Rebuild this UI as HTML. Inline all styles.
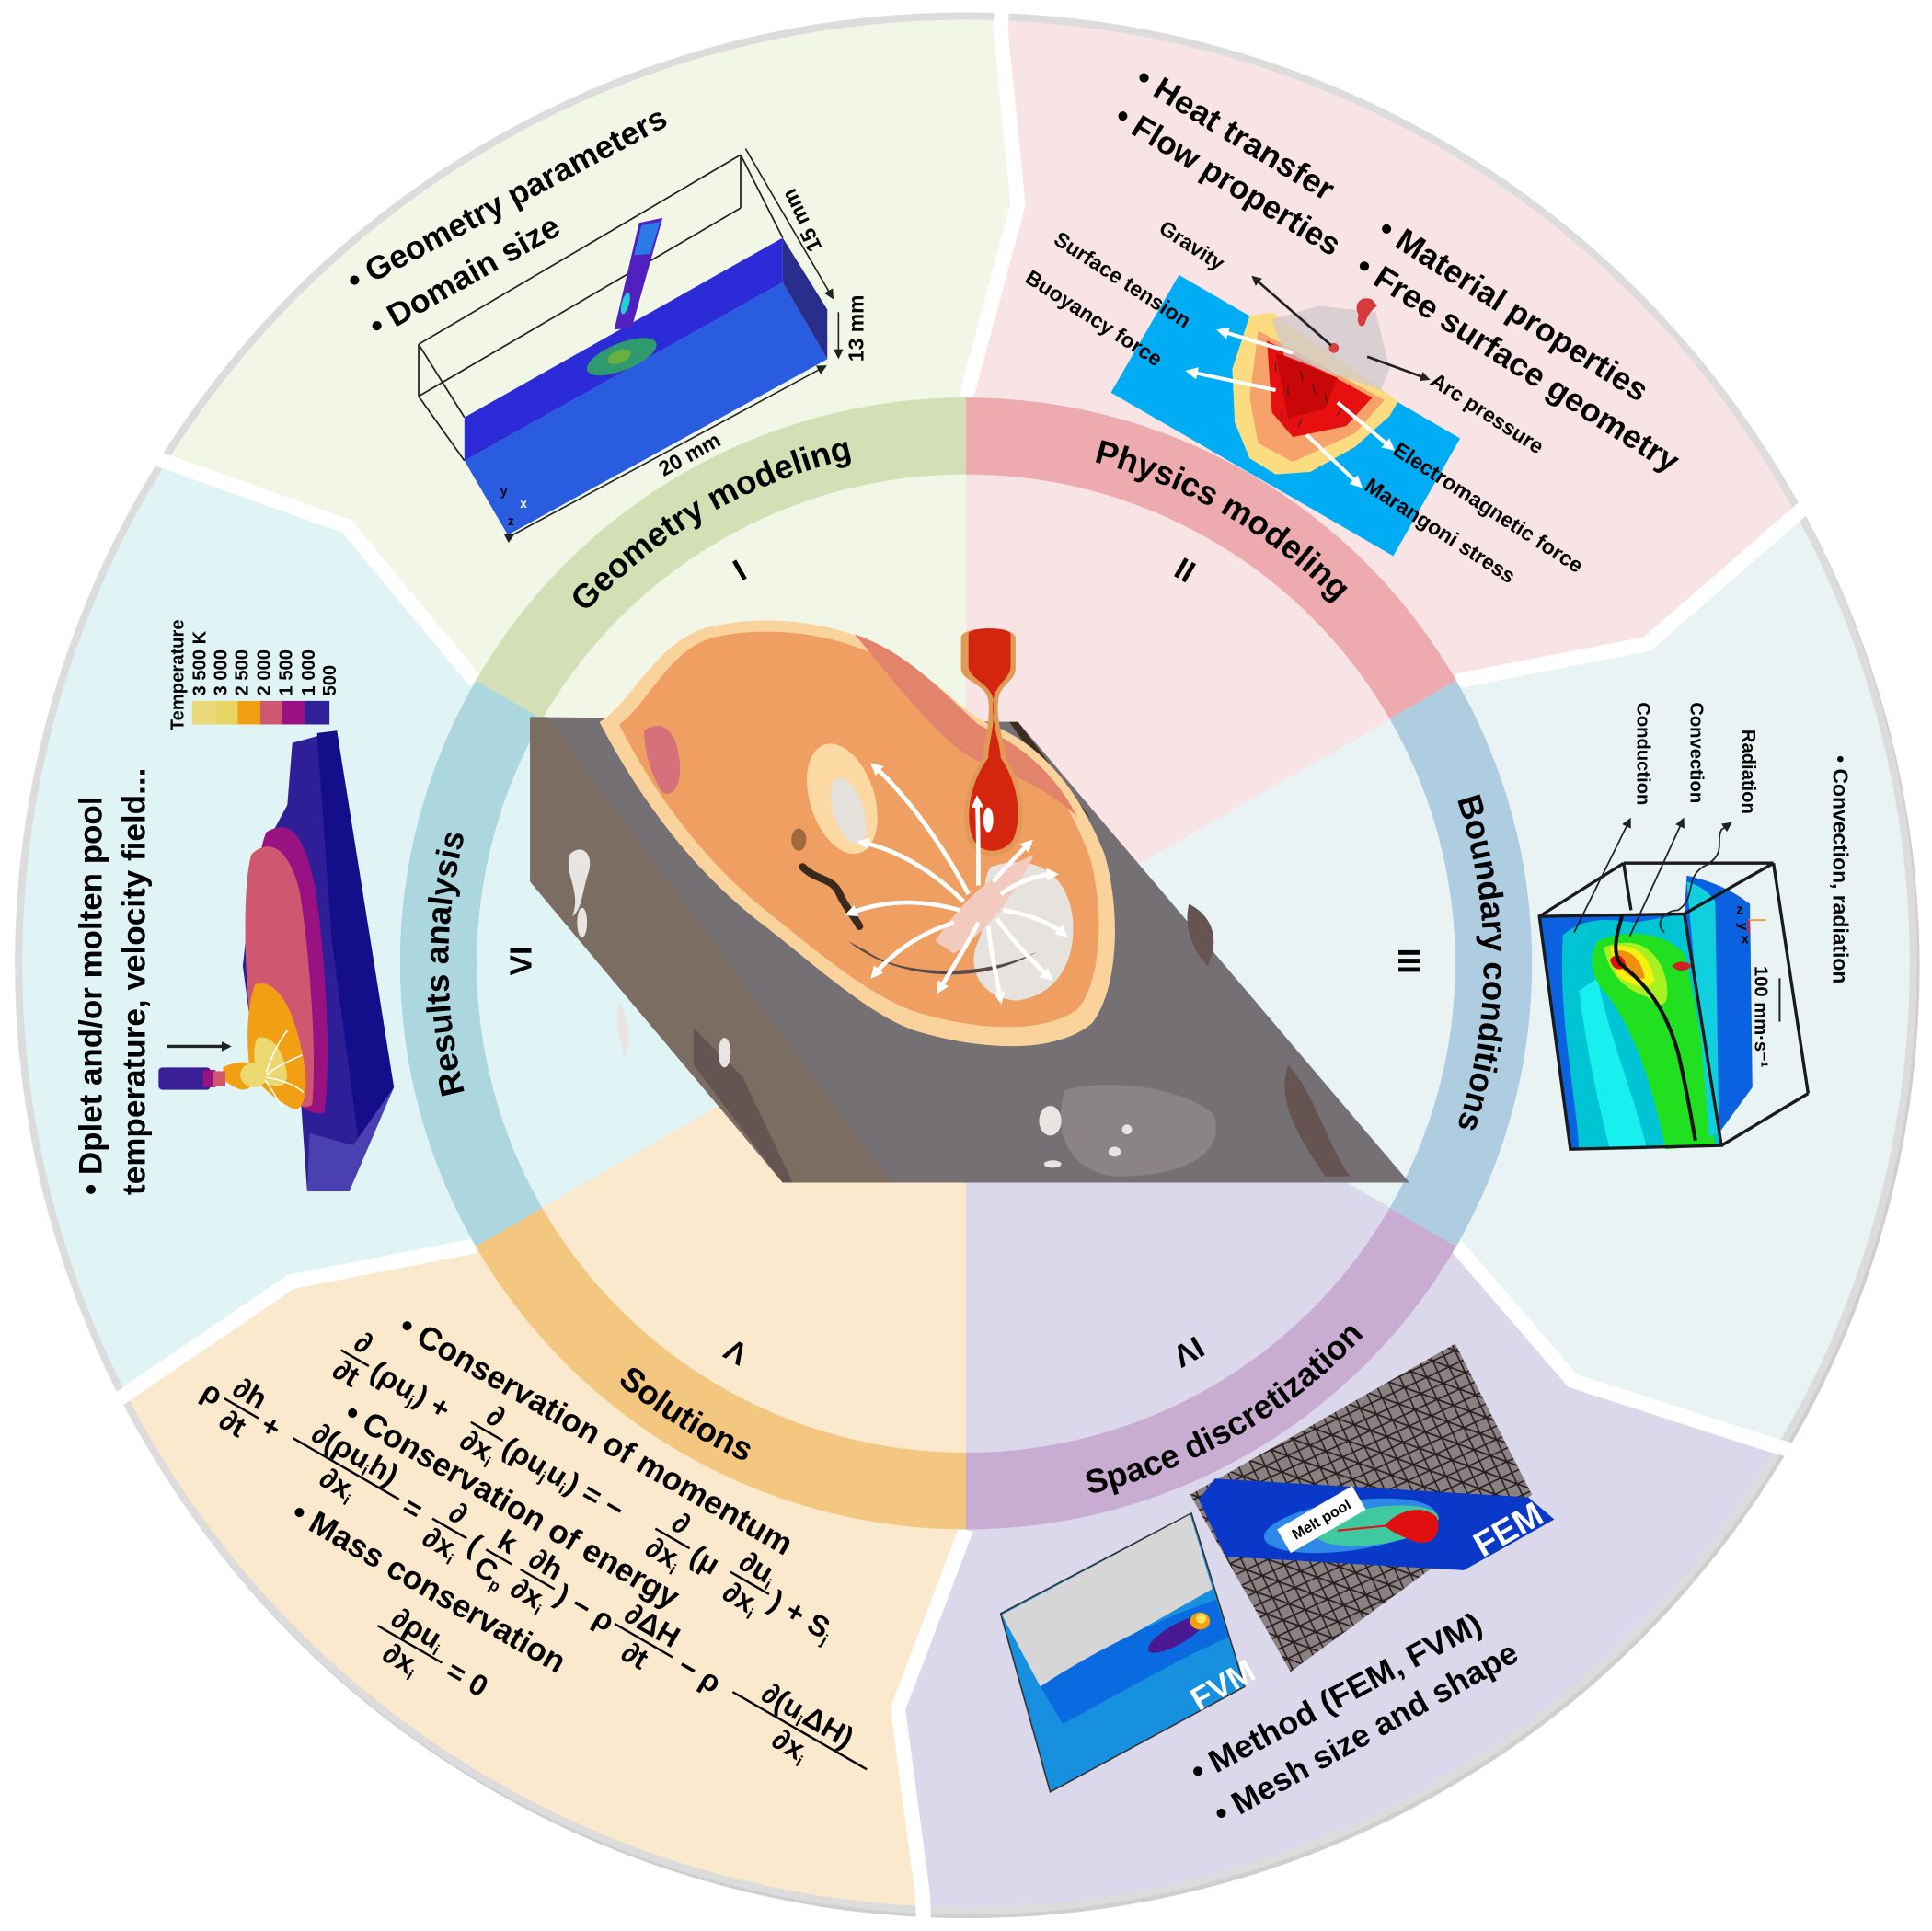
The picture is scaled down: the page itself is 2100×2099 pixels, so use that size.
<!DOCTYPE html>
<html><head><meta charset="utf-8"><style>
html,body{margin:0;padding:0;background:#fff;width:2100px;height:2099px;overflow:hidden;}
svg{display:block;}
text{font-family:"Liberation Sans",Arial,sans-serif;font-weight:bold;fill:#000;}
</style></head><body>
<svg width="2100" height="2099" viewBox="0 0 1560 1559.3" xmlns="http://www.w3.org/2000/svg">
<defs>
<clipPath id="cc"><circle cx="780" cy="778" r="762"/></clipPath>
<marker id="ab" markerWidth="8" markerHeight="8" refX="6" refY="4" orient="auto" markerUnits="userSpaceOnUse"><path d="M0,0 L8,4 L0,8 Z" fill="#222"/></marker>
<marker id="aw" markerWidth="10" markerHeight="10" refX="7" refY="5" orient="auto" markerUnits="userSpaceOnUse"><path d="M0,0 L10,5 L0,10 Z" fill="#fff"/></marker>
<pattern id="mesh" width="14" height="14" patternUnits="userSpaceOnUse" patternTransform="rotate(20)">
<rect width="14" height="14" fill="#8a8282"/>
<path d="M0,0 L14,14 M14,0 L0,14 M0,7 L14,7" stroke="#2a1c1c" stroke-width="1.2"/>
</pattern>
<path id="tI" d="M418,569 A418,418 0 0 1 780,360"/>
<path id="tII" d="M780,360 A418,418 0 0 1 1142,569"/>
<path id="tIII" d="M1142,569 A418,418 0 0 1 1142,987"/>
<path id="tVI" d="M418,987 A418,418 0 0 1 418,569"/>
<path id="tIV" d="M780,1218 A440,440 0 0 0 1161,998"/>
<path id="tV" d="M399,998 A440,440 0 0 0 780,1218"/>
</defs>

<circle cx="782" cy="781" r="768" fill="#cfcfcf"/>
<circle cx="780" cy="778" r="768" fill="#dcdcdc"/>

<g clip-path="url(#cc)">
<polygon fill="#f2f6e6" points="780,778 384,550 280,425 140,375 -300,100 -300,-300 810,-300 808,25 822,165 780,321"/>
<polygon fill="#f8e3e5" points="780,778 780,321 822,165 808,25 810,-300 1900,-300 1900,300 1445,420 1330,520 1176,550"/>
<polygon fill="#eaf3f4" points="780,778 1176,550 1330,520 1445,420 1900,300 1900,1300 1425,1165 1270,1115 1176,1006"/>
<polygon fill="#dcd8eb" points="780,778 1176,1006 1270,1115 1425,1165 1900,1300 1900,1900 745,1900 745,1530 725,1380 780,1235"/>
<polygon fill="#fae9cd" points="780,778 780,1235 725,1380 745,1530 745,1900 -300,1900 -300,1200 110,1120 235,1035 384,1006"/>
<polygon fill="#e0f4f6" points="780,778 384,1006 235,1035 110,1120 -300,1200 -300,100 140,375 280,425 384,550"/>
</g>
<g fill="none" stroke="#fff" stroke-width="12" stroke-linejoin="round">
<polyline points="780,321 822,165 808,25 809,2"/>
<polyline points="1176,550 1330,520 1445,420 1466,402"/>
<polyline points="1176,1006 1270,1115 1425,1165 1450,1172"/>
<polyline points="780,1235 725,1380 745,1530 746,1558"/>
<polyline points="384,1006 235,1035 110,1120 90,1134"/>
<polyline points="384,550 280,425 140,375 118,367"/>
</g>

<path fill="#d3e0b5" d="M384.2,549.5 A457,457 0 0 1 780,321 L780,383 A395,395 0 0 0 437.9,580.5 Z"/>
<path fill="#eeabaf" d="M780,321 A457,457 0 0 1 1175.8,549.5 L1122.1,580.5 A395,395 0 0 0 780,383 Z"/>
<path fill="#aecde1" d="M1175.8,549.5 A457,457 0 0 1 1175.8,1006.5 L1122.1,975.5 A395,395 0 0 0 1122.1,580.5 Z"/>
<path fill="#c8acd2" d="M1175.8,1006.5 A457,457 0 0 1 780,1235 L780,1173 A395,395 0 0 0 1122.1,975.5 Z"/>
<path fill="#f3c780" d="M780,1235 A457,457 0 0 1 384.2,1006.5 L437.9,975.5 A395,395 0 0 0 780,1173 Z"/>
<path fill="#acd7de" d="M384.2,1006.5 A457,457 0 0 1 384.2,549.5 L437.9,580.5 A395,395 0 0 0 437.9,975.5 Z"/>

<g font-size="27">
<text><textPath href="#tI" startOffset="50%" text-anchor="middle">Geometry modeling</textPath></text>
<text><textPath href="#tII" startOffset="50%" text-anchor="middle">Physics modeling</textPath></text>
<text><textPath href="#tIII" startOffset="50%" text-anchor="middle">Boundary conditions</textPath></text>
<text><textPath href="#tVI" startOffset="50%" text-anchor="middle">Results analysis</textPath></text>
<text><textPath href="#tIV" startOffset="50%" text-anchor="middle">Space discretization</textPath></text>
<text><textPath href="#tV" startOffset="47%" text-anchor="middle">Solutions</textPath></text>
</g>
<g font-size="25" text-anchor="middle">
<text transform="translate(597,460) rotate(-30)" dy="9">I</text>
<text transform="translate(957,460) rotate(30)" dy="9">II</text>
<text transform="translate(1138,776) rotate(90)" dy="9">III</text>
<text transform="translate(960,1092) rotate(150)" dy="9">IV</text>
<text transform="translate(594,1092) rotate(-150)" dy="9">V</text>
<text transform="translate(420,776) rotate(-90)" dy="9">VI</text>
</g>

<polygon fill="#747073" points="428,579 822,583 1138,955 632,955 428,712"/>
<polygon fill="#7b6d62" points="428,579 442,579 720,955 632,955 428,712"/>
<polygon fill="#665453" points="560,830 600,870 640,955 632,955 560,860"/>
<polygon fill="#3b2d22" points="815,583 822,583 880,660 862,650"/>
<path fill="#8a8486" d="M860,880 C900,870 960,880 980,900 C990,930 960,950 900,950 C860,945 850,910 860,880 Z"/>
<path fill="#665453" d="M1040,860 C1060,880 1070,920 1090,950 L1070,950 C1050,920 1030,890 1040,860 Z"/>
<path fill="#665453" d="M960,730 C980,740 985,760 975,780 C965,770 955,750 960,730 Z"/>
<g fill="#e8e4e2">
<path d="M460,690 C470,680 480,690 475,705 C470,720 470,735 462,740 C470,720 455,705 460,690 Z"/>
<ellipse cx="470" cy="745" rx="4" ry="12"/>
<path d="M500,810 C508,820 510,840 505,855 C500,840 496,825 500,810 Z"/>
<ellipse cx="585" cy="850" rx="5" ry="12"/>
<ellipse cx="848" cy="905" rx="9" ry="12"/>
<ellipse cx="900" cy="930" rx="5" ry="4"/>
<ellipse cx="910" cy="912" rx="4" ry="4"/>
<ellipse cx="850" cy="940" rx="7" ry="3"/>
</g>
<path fill="#fad39c" d="M484,583 C510,568 528,520 570,507 C620,494 682,503 722,528 C760,552 780,578 804,587 C842,602 872,640 892,690 C906,740 902,800 882,826 C852,852 790,848 738,832 C698,818 650,772 610,742 C560,702 518,648 484,583 Z"/>
<path fill="#ef9f62" d="M500,585 C522,570 540,525 575,515 C622,504 680,512 718,535 C752,556 776,582 800,592 C836,606 862,644 880,692 C893,740 888,795 870,815 C842,835 790,832 742,818 C700,804 656,765 618,735 C572,698 530,645 500,585 Z"/>
<path fill="#e2846c" d="M690,512 C735,528 762,560 790,585 C820,600 850,620 870,660 C850,640 820,625 790,615 C760,600 730,560 690,512 Z"/>
<path fill="#d6707a" d="M520,590 C535,580 545,590 548,610 C552,630 545,645 535,640 C525,625 520,605 520,590 Z"/>
<ellipse cx="680" cy="645" rx="26" ry="46" transform="rotate(-18 680 645)" fill="#fcd9a2"/>
<ellipse cx="685" cy="655" rx="12" ry="28" transform="rotate(-18 685 655)" fill="#e4e0dc"/>
<path fill="#e6e2de" d="M800,700 C830,690 860,700 866,740 C870,780 850,805 820,808 C790,805 780,780 790,760 C800,735 790,715 800,700 Z"/>
<path fill="#f3cabe" d="M755,760 C775,730 800,705 835,690 C820,720 800,750 770,770 Z"/>
<path fill="#5a4a4a" d="M685,760 C720,790 790,798 838,768 C800,788 730,790 700,768 Z"/>
<path fill="none" stroke="#3a2a1e" stroke-width="6" stroke-linecap="round" d="M648,700 C660,712 672,708 678,722 C684,735 690,740 694,748"/>
<ellipse cx="645" cy="678" rx="6" ry="9" fill="#a06a3c"/>
<path fill="#e09a55" d="M776,515 C776,505 820,505 820,515 L820,540 C820,550 808,552 806,565 C804,585 812,600 812,612 C826,632 830,660 822,680 C812,695 790,695 782,680 C774,660 780,630 794,612 C794,600 800,585 798,565 C796,552 776,550 776,540 Z"/>
<path fill="#d4260e" d="M782,512 C782,506 816,506 816,512 L816,538 C816,548 804,552 802,565 C800,585 808,600 808,612 C822,632 826,660 818,678 C810,690 792,690 786,678 C778,660 784,630 798,612 C798,600 804,585 802,565 C800,552 782,548 782,538 Z"/>
<ellipse cx="798" cy="662" rx="4" ry="10" fill="#fff"/>
<g stroke="#fff" stroke-width="3.5" fill="none" marker-end="url(#aw)">
<path d="M782,722 C760,680 730,640 705,618"/>
<path d="M778,728 C750,700 720,685 695,680"/>
<path d="M775,735 C740,725 710,728 685,738"/>
<path d="M770,745 C740,755 720,770 705,788"/>
<path d="M790,745 C780,765 770,780 758,800"/>
<path d="M798,748 C800,770 805,790 808,808"/>
<path d="M805,742 C818,760 832,775 848,790"/>
<path d="M810,735 C830,738 848,745 860,755"/>
<path d="M808,722 C822,712 838,706 852,706"/>
<path d="M802,712 C812,700 822,690 832,680"/>
<path d="M790,715 C790,690 790,665 789,645"/>
</g>

<g font-size="26">
<text transform="translate(282,228) rotate(-28)" dy="9" textLength="288" lengthAdjust="spacingAndGlyphs">• Geometry parameters</text>
<text transform="translate(300,265) rotate(-29.5)" dy="9" textLength="172" lengthAdjust="spacingAndGlyphs">• Domain size</text>
</g>
<g fill="none" stroke="#222" stroke-width="1.3">
<line x1="338" y1="278" x2="598" y2="125"/>
<line x1="598" y1="125" x2="598" y2="168"/>
<line x1="338" y1="278" x2="338" y2="320"/>
<line x1="338" y1="320" x2="598" y2="168"/>
<line x1="338" y1="278" x2="375" y2="337"/>
<line x1="598" y1="125" x2="632" y2="192"/>
<line x1="338" y1="320" x2="375" y2="372"/>
</g>
<polygon fill="#2a5ce0" points="375,372 632,228 668,290 410,432"/>
<polygon fill="#2b2bd8" points="375,337 632,192 632,228 375,372"/>
<polygon fill="#292e8c" points="632,192 668,250 668,290 632,228"/>
<polygon fill="#5020c0" points="516,180 535,176 510,265 496,266"/>
<polygon fill="#2a7ae8" points="518,182 533,179 525,205 512,206"/>
<ellipse cx="505" cy="245" rx="3" ry="9" fill="#20d0d0" transform="rotate(15 505 245)"/>
<ellipse cx="502" cy="288" rx="30" ry="11" fill="#2e9a6e" transform="rotate(-22 502 288)"/>
<ellipse cx="500" cy="288" rx="10" ry="5" fill="#6ab040" transform="rotate(-22 500 288)"/>
<g stroke="#222" stroke-width="1.2" fill="none">
<line x1="414" y1="432" x2="666" y2="296" marker-end="url(#ab)" marker-start="url(#ab)"/>
<line x1="602" y1="120" x2="672" y2="240" marker-end="url(#ab)"/>
<line x1="677" y1="252" x2="677" y2="288" marker-end="url(#ab)"/>
</g>
<text font-size="17" transform="translate(536,385) rotate(-29)">20 mm</text>
<text font-size="17" transform="translate(664,200) rotate(-115)">15 mm</text>
<text font-size="17" transform="translate(697,292) rotate(-90)">13 mm</text>
<text font-size="10" style="fill:#fff" x="420" y="410">x</text>
<text font-size="10" x="404" y="400">y</text>
<text font-size="10" x="410" y="424">z</text>

<g font-size="26">
<text transform="translate(920,60) rotate(31.5)" dy="9" textLength="182" lengthAdjust="spacingAndGlyphs">• Heat transfer</text>
<text transform="translate(903,91) rotate(31.5)" dy="9" textLength="208" lengthAdjust="spacingAndGlyphs">• Flow properties</text>
<text transform="translate(1116,182) rotate(32.5)" dy="9" textLength="252" lengthAdjust="spacingAndGlyphs">• Material properties</text>
<text transform="translate(1098,212) rotate(32.5)" dy="9" textLength="303" lengthAdjust="spacingAndGlyphs">• Free surface geometry</text>
</g>
<polygon fill="#00adf5" points="952,222 1179,354 1125,449 897,317"/>
<polygon fill="#fcdc80" points="1009,255 1027,252 1129,324 1122,336 1094,361 1058,381 1030,383 1009,370 997,341 995,298"/>
<polygon fill="#f6a26a" points="1016,267 1118,323 1094,350 1044,373 1016,358 1009,321"/>
<polygon fill="#e61010" points="1023,275 1108,321 1087,344 1044,353 1027,333"/>
<polygon fill="#c80808" points="1030,285 1080,305 1070,330 1040,338"/>
<g stroke="#222" stroke-width="1" fill="none" opacity="0.7">
<path d="M1030,300 l0,-8 M1040,320 l0,-8 M1050,300 l2,8 M1060,310 l2,8 M1070,318 l2,8 M1035,340 l0,-8 M1048,345 l3,-6 M1080,335 l4,-6"/>
</g>
<polygon fill="#d0c8cc" opacity="0.75" points="1027,258 1065,247 1111,252 1122,298 1115,315 1065,298 1037,287"/>
<path fill="#d63a3a" d="M1097,254 C1092,245 1100,238 1108,242 L1112,247 C1108,250 1104,254 1102,262 C1098,266 1095,260 1097,254 Z"/>
<circle cx="1077" cy="281" r="4" fill="#d84040"/>
<g stroke="#222" stroke-width="2" fill="none" marker-end="url(#ab)">
<line x1="1075" y1="279" x2="1012" y2="224"/>
<line x1="1104" y1="288" x2="1153" y2="306"/>
</g>
<g stroke="#fff" stroke-width="3" fill="none" marker-end="url(#aw)">
<line x1="1044" y1="285" x2="985" y2="267"/>
<line x1="1030" y1="315" x2="960" y2="300"/>
<line x1="1080" y1="325" x2="1124" y2="362"/>
<line x1="1055" y1="351" x2="1098" y2="392"/>
</g>
<g font-size="17">
<text transform="translate(938,182) rotate(33)" dy="6">Gravity</text>
<text transform="translate(853,191) rotate(33)" dy="6">Surface tension</text>
<text transform="translate(830,222) rotate(33)" dy="6">Buoyancy force</text>
<text transform="translate(1157,305) rotate(33)" dy="6">Arc pressure</text>
<text transform="translate(1127,361) rotate(33)" dy="6">Electromagnetic force</text>
<text transform="translate(1104,390) rotate(33)" dy="6">Marangoni stress</text>
</g>

<polygon fill="#0a62e0" points="1243,740 1360,738 1390,925 1268,928"/>
<path fill="#00c3d3" d="M1262,755 C1280,740 1300,742 1320,745 L1360,738 L1390,925 L1275,928 C1272,880 1258,820 1262,755 Z"/>
<path fill="#18f0f0" d="M1275,800 C1280,840 1290,890 1300,928 L1330,928 C1318,880 1300,840 1290,790 Z"/>
<path fill="#20e020" d="M1290,760 C1320,748 1345,755 1360,770 C1372,820 1380,880 1385,925 L1345,928 C1335,880 1320,830 1295,800 C1285,790 1282,772 1290,760 Z"/>
<path fill="#a8f020" d="M1295,765 C1320,755 1338,765 1345,790 C1350,815 1340,815 1330,805 C1315,800 1300,790 1295,765 Z"/>
<path fill="#f4f010" d="M1300,765 C1318,760 1332,770 1336,792 C1330,800 1318,796 1306,788 Z"/>
<path fill="#f09010" d="M1303,768 C1316,765 1326,775 1328,790 C1318,792 1308,785 1303,768 Z"/>
<path fill="#e01010" d="M1300,775 C1305,768 1312,772 1313,780 C1308,785 1302,783 1300,775 Z"/>
<path fill="#0a62e0" d="M1360,738 L1362,707 C1385,712 1400,720 1413,730 L1415,878 L1388,915 Z"/>
<path fill="#10d0e0" d="M1362,712 C1372,715 1380,720 1385,728 L1388,915 L1380,918 C1375,850 1368,780 1362,712 Z"/>
<path fill="#d02020" d="M1350,780 C1355,775 1362,776 1366,780 C1362,784 1356,786 1350,780 Z"/>
<g fill="none" stroke="#1a1a1a" stroke-width="2.5">
<polygon points="1243,740 1360,738 1390,925 1268,928"/>
<line x1="1243" y1="740" x2="1311" y2="697"/>
<line x1="1311" y1="697" x2="1432" y2="697"/>
<line x1="1360" y1="738" x2="1432" y2="697"/>
<line x1="1432" y1="697" x2="1460" y2="883"/>
<line x1="1390" y1="925" x2="1460" y2="883"/>
<line x1="1311" y1="697" x2="1317" y2="735"/>
</g>
<path fill="none" stroke="#111" stroke-width="3" d="M1310,739 C1305,755 1302,768 1308,778 C1330,795 1345,815 1355,850 C1362,880 1366,905 1369,921"/>
<g stroke="#222" stroke-width="1.3" fill="none" marker-end="url(#ab)">
<line x1="1271" y1="753" x2="1316" y2="662"/>
<line x1="1316" y1="756" x2="1359" y2="662"/>
<path d="M1344,753 C1335,745 1345,735 1355,735 C1370,725 1360,710 1375,700 C1395,690 1385,680 1390,670 L1397,665"/>
</g>
<g font-size="15">
<text transform="translate(1322,567) rotate(90)">Conduction</text>
<text transform="translate(1365,567) rotate(90)">Convection</text>
<text transform="translate(1407,589) rotate(90)">Radiation</text>
<text transform="translate(1417,780) rotate(90)">100 mm·s⁻¹</text>
<text font-size="17" transform="translate(1480,610) rotate(90)">• Convection, radiation</text>
<text font-size="11" transform="translate(1404,745) rotate(90)">y</text>
<text font-size="11" x="1402" y="738">z</text>
<text font-size="11" x="1406" y="762">x</text>
</g>
<line x1="1437" y1="790" x2="1437" y2="825" stroke="#222" stroke-width="1.5"/>
<line x1="1412" y1="743" x2="1426" y2="743" stroke="#f0a030" stroke-width="1.5"/>
<line x1="1412" y1="743" x2="1412" y2="754" stroke="#e02020" stroke-width="1.5"/>

<polygon fill="url(#mesh)" points="961,1207 1175,1085 1237,1207 1042,1350"/>
<polygon fill="#0a38c8" points="968,1211 981,1194 1234,1209 1255,1227 1182,1268 990,1257"/>
<ellipse cx="1090" cy="1232" rx="70" ry="20" fill="#2e88e8" transform="rotate(-8 1090 1232)"/>
<ellipse cx="1112" cy="1232" rx="50" ry="15" fill="#40c8a0" transform="rotate(-8 1112 1232)"/>
<path fill="#e01010" d="M1118,1232 C1130,1218 1150,1215 1160,1225 C1165,1240 1155,1250 1140,1244 C1130,1240 1122,1236 1118,1232 Z"/>
<line x1="1080" y1="1236" x2="1120" y2="1232" stroke="#e01010" stroke-width="1.5"/>
<g transform="translate(1067,1227) rotate(-30)">
<rect x="-35" y="-11" width="70" height="22" fill="#fff"/>
<text font-size="12" text-anchor="middle" dy="4">Melt pool</text>
</g>
<text font-size="28" style="fill:#fff" transform="translate(1197,1258) rotate(-30)">FEM</text>
<polygon fill="#1890e0" stroke="#333" stroke-width="1.2" points="808,1303 962,1222 1005,1362 848,1447"/>
<polygon fill="#d6d6d6" points="809,1304 961,1223 979,1283 840,1362"/>
<path fill="#0a6ae0" d="M840,1362 C880,1335 940,1305 982,1292 L992,1322 C950,1340 900,1370 858,1392 Z"/>
<ellipse cx="950" cy="1320" rx="26" ry="8" fill="#4a1890" transform="rotate(-30 950 1320)"/>
<ellipse cx="969" cy="1309" rx="8" ry="7" fill="#f0a010"/>
<ellipse cx="970" cy="1307" rx="4" ry="4" fill="#ffe060"/>
<text font-size="26" style="fill:#fff" transform="translate(968,1382) rotate(-30)">FVM</text>
<g font-size="26">
<text transform="translate(963,1432) rotate(-28)" dy="9" textLength="262" lengthAdjust="spacingAndGlyphs">• Method (FEM, FVM)</text>
<text transform="translate(982,1466) rotate(-29)" dy="9" textLength="276" lengthAdjust="spacingAndGlyphs">• Mesh size and shape</text>
</g>

<g transform="translate(325,1068) rotate(30)" font-size="24">
<text font-size="26" x="0" y="9">• Conservation of momentum</text>
<g stroke="#000" stroke-width="1.8">
<line x1="-32" y1="44" x2="-6" y2="44"/>
<line x1="88" y1="42" x2="118" y2="42"/>
<line x1="260" y1="42" x2="292" y2="42"/>
<line x1="330" y1="42" x2="366" y2="42"/>
<line x1="-94" y1="125" x2="-62" y2="125"/>
<line x1="-30" y1="125" x2="69" y2="125"/>
<line x1="100" y1="125" x2="132" y2="125"/>
<line x1="150" y1="125" x2="174" y2="125"/>
<line x1="182" y1="125" x2="214" y2="125"/>
<line x1="270" y1="125" x2="324" y2="125"/>
<line x1="380" y1="125" x2="505" y2="125"/>
<line x1="105" y1="222" x2="165" y2="222"/>
</g>
<g text-anchor="middle">
<text x="-19" y="38">∂</text><text x="-19" y="66">∂t</text>
<text x="103" y="36">∂</text><text x="103" y="64">∂x<tspan font-size="13" dy="4">i</tspan></text>
<text x="276" y="36">∂</text><text x="276" y="64">∂x<tspan font-size="13" dy="4">i</tspan></text>
<text x="348" y="36">∂u<tspan font-size="13" dy="4">i</tspan></text><text x="348" y="64">∂x<tspan font-size="13" dy="4">i</tspan></text>
<text x="-78" y="119">∂h</text><text x="-78" y="147">∂t</text>
<text x="20" y="119">∂(ρu<tspan font-size="13" dy="4">i</tspan><tspan dy="-4">h)</tspan></text><text x="20" y="147">∂x<tspan font-size="13" dy="4">i</tspan></text>
<text x="116" y="119">∂</text><text x="116" y="147">∂x<tspan font-size="13" dy="4">i</tspan></text>
<text x="162" y="119">k</text><text x="162" y="147">C<tspan font-size="13" dy="4">p</tspan></text>
<text x="198" y="119">∂h</text><text x="198" y="147">∂x<tspan font-size="13" dy="4">i</tspan></text>
<text x="297" y="119">∂ΔH</text><text x="297" y="147">∂t</text>
<text x="442" y="119">∂(u<tspan font-size="13" dy="4">i</tspan><tspan dy="-4">ΔH)</tspan></text><text x="442" y="147">∂x<tspan font-size="13" dy="4">i</tspan></text>
<text x="135" y="216">∂ρu<tspan font-size="13" dy="4">i</tspan></text><text x="135" y="244">∂x<tspan font-size="13" dy="4">i</tspan></text>
</g>
<text x="-2" y="52">(ρu<tspan font-size="13" dy="4">j</tspan><tspan dy="-4">) +</tspan></text>
<text x="121" y="52">(ρu<tspan font-size="13" dy="4">j</tspan><tspan dy="-4">u</tspan><tspan font-size="13" dy="4">i</tspan><tspan dy="-4">) = −</tspan></text>
<text x="296" y="52">(μ</text>
<text x="370" y="52">) + S<tspan font-size="13" dy="4">j</tspan></text>
<text font-size="26" x="-3" y="92">• Conservation of energy</text>
<text x="-112" y="134">ρ</text>
<text x="-57" y="134">+</text>
<text x="75" y="134">=</text>
<text x="136" y="134">(</text>
<text x="218" y="134">) − ρ</text>
<text x="332" y="134">− ρ</text>
<text font-size="26" x="0" y="183">• Mass conservation</text>
<text x="172" y="231">= 0</text>
</g>

<g font-size="26">
<text transform="translate(82,965) rotate(-90)" textLength="322" lengthAdjust="spacingAndGlyphs">• Dplet and/or molten pool</text>
<text transform="translate(117,965) rotate(-90)" textLength="345" lengthAdjust="spacingAndGlyphs">temperature, velocity field...</text>
</g>
<g>
<rect x="155" y="566" width="19" height="19" fill="#e8d878"/>
<rect x="174" y="566" width="18" height="19" fill="#e8d462"/>
<rect x="192" y="566" width="18" height="19" fill="#f0a012"/>
<rect x="210" y="566" width="18" height="19" fill="#cf5870"/>
<rect x="228" y="566" width="18" height="19" fill="#9a1282"/>
<rect x="246" y="566" width="20" height="19" fill="#30219a"/>
</g>
<g font-size="15">
<text transform="translate(148,590) rotate(-90)">Temperature</text>
<text transform="translate(166,562) rotate(-90)">3 500 K</text>
<text transform="translate(183,562) rotate(-90)">3 000</text>
<text transform="translate(200,562) rotate(-90)">2 500</text>
<text transform="translate(218,562) rotate(-90)">2 000</text>
<text transform="translate(236,562) rotate(-90)">1 500</text>
<text transform="translate(254,562) rotate(-90)">1 000</text>
<text transform="translate(271,562) rotate(-90)">500</text>
</g>
<polygon fill="#2e1f98" points="236,600 272,590 318,878 282,962 248,962 243,890 208,870 196,780 205,700 232,650"/>
<polygon fill="#140e8a" points="256,592 272,590 318,878 290,925 268,760"/>
<polygon fill="#4a40b0" points="250,915 285,925 318,878 282,962 248,962"/>
<path fill="#9a1282" d="M215,672 C232,662 245,668 255,720 C262,770 268,850 262,898 C250,905 225,880 210,860 C200,800 203,700 215,672 Z"/>
<path fill="#cf5870" d="M203,690 C215,678 232,680 242,720 C250,770 256,850 252,892 C242,900 222,880 208,865 C198,820 194,720 203,690 Z"/>
<path fill="#f0a012" d="M206,795 C222,790 236,810 244,850 C250,880 246,895 238,896 C225,890 210,878 202,865 C198,840 200,810 206,795 Z"/>
<path fill="#ecd870" d="M208,838 C220,835 230,850 232,870 C230,880 220,878 210,872 C204,860 204,845 208,838 Z"/>
<path fill="#f0a012" d="M180,862 C188,858 198,856 205,860 C210,870 205,880 195,880 C188,878 184,874 180,872 Z"/>
<ellipse cx="205" cy="868" rx="11" ry="10" fill="#ecd870"/>
<rect x="128" y="862" width="42" height="18" rx="3" fill="#3a2098"/>
<rect x="164" y="864" width="10" height="14" fill="#9a1282"/>
<rect x="172" y="865" width="10" height="12" fill="#cf5870"/>
<g stroke="#fff" stroke-width="1.2" fill="none">
<path d="M215,866 C220,850 226,840 232,832 M215,868 C225,860 235,856 244,852 M215,870 C228,872 238,876 245,882 M214,872 C220,880 224,888 228,895"/>
</g>
<line x1="135" y1="845" x2="185" y2="845" stroke="#222" stroke-width="2.5" marker-end="url(#ab)"/>
</svg>
</body></html>
